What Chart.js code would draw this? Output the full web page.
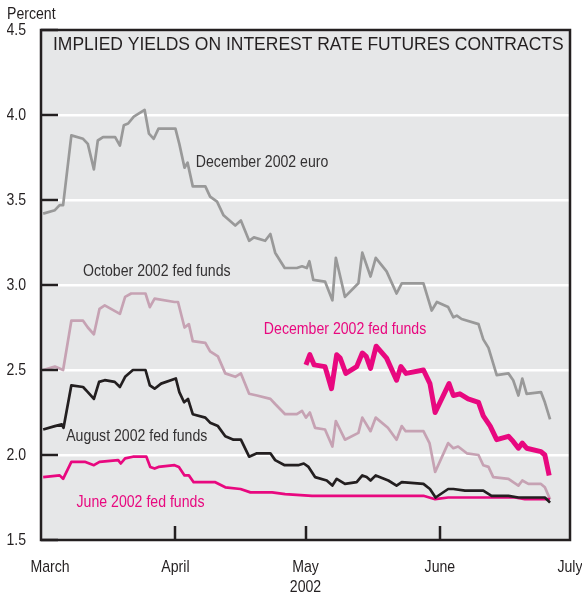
<!DOCTYPE html>
<html><head><meta charset="utf-8">
<script src="https://cdn.jsdelivr.net/npm/chart.js@4/dist/chart.umd.min.js"></script>
<style>html,body{margin:0;padding:0;background:#fff}#wrap{width:582px;height:598px}</style>
</head><body><div id="wrap"><canvas id="c" width="582" height="598"></canvas></div>
<script>
// x values are days since March 1, 2002
const monthLabels = ['March','April','May','June','July'];
const monthDays = [0, 31, 61, 92, 122];
const yTickValues = [1.5, 2.0, 2.5, 3.0, 3.5, 4.0, 4.5];

const euroDays = [0.5,3.2,4.3,5.1,7.0,9.7,10.8,12.2,13.1,14.3,17.1,18.2,19.1,20.1,21.4,23.9,24.9,26.0,27.1,31.0,31.9,33.1,33.8,35.0,37.9,39.0,40.6,42.1,44.8,46.1,48.0,49.1,51.7,52.9,54.0,56.2,59.0,60.2,61.3,61.9,62.8,65.5,67.2,68.0,70.1,73.2,74.1,76.0,77.2,79.7,82.0,83.2,88.2,90.1,91.3,93.9,95.1,95.9,97.0,100.9,102.0,103.2,105.1,107.8,108.9,110.1,111.0,112.0,115.3,116.2,117.4];
const euroVals = [3.42,3.44,3.47,3.47,3.88,3.86,3.83,3.68,3.85,3.87,3.87,3.82,3.94,3.95,3.99,4.03,3.89,3.86,3.92,3.92,3.83,3.69,3.72,3.58,3.58,3.52,3.49,3.41,3.35,3.38,3.26,3.28,3.26,3.30,3.19,3.10,3.10,3.11,3.10,3.14,3.03,3.02,2.91,3.16,2.93,3.01,3.19,3.05,3.16,3.08,2.95,3.01,3.01,2.85,2.90,2.87,2.81,2.82,2.80,2.77,2.68,2.63,2.47,2.48,2.44,2.35,2.45,2.36,2.37,2.31,2.21];

const octDays = [0.5,3.2,5.1,7.0,9.7,10.8,12.2,13.5,14.7,18.2,19.4,20.8,24.1,25.1,26.2,30.8,31.6,33.1,34.1,35.0,37.9,39.0,40.8,42.5,44.8,46.1,48.0,49.8,52.9,54.0,56.3,59.0,60.2,61.1,62.0,63.2,65.5,67.2,68.0,70.1,73.2,74.1,76.0,77.2,80.0,82.0,83.2,84.1,88.2,89.6,90.9,93.9,95.1,96.2,98.2,100.9,102.0,103.2,104.3,107.8,108.9,110.1,111.0,112.4,115.3,116.2,117.4];
const octVals = [2.50,2.52,2.50,2.79,2.79,2.75,2.71,2.86,2.88,2.83,2.93,2.95,2.95,2.87,2.92,2.90,2.90,2.75,2.77,2.67,2.66,2.61,2.58,2.48,2.46,2.48,2.36,2.35,2.33,2.30,2.24,2.24,2.26,2.22,2.25,2.16,2.15,2.05,2.20,2.09,2.13,2.22,2.14,2.22,2.16,2.09,2.17,2.14,2.14,2.07,1.90,2.07,2.04,2.05,2.01,2.00,1.94,1.93,1.87,1.86,1.84,1.82,1.85,1.83,1.83,1.81,1.74];

const augDays = [0.5,3.2,4.8,5.2,7.0,9.7,10.8,12.2,13.4,14.7,17.0,18.2,19.4,21.2,24.1,25.1,26.2,27.7,31.1,31.9,33.0,33.9,35.0,37.9,39.0,40.8,42.5,44.4,46.1,48.0,49.8,52.9,54.0,56.2,59.3,60.6,61.7,63.2,65.9,67.2,68.2,70.1,72.8,74.1,75.1,76.0,77.2,80.1,82.0,83.2,88.2,89.7,91.0,93.9,95.1,97.8,102.0,103.9,107.8,110.1,116.2,117.4];
const augVals = [2.15,2.17,2.18,2.16,2.41,2.40,2.37,2.33,2.43,2.44,2.43,2.40,2.46,2.50,2.50,2.41,2.39,2.42,2.45,2.37,2.31,2.33,2.24,2.22,2.19,2.17,2.11,2.09,2.09,1.99,2.01,2.01,1.97,1.94,1.94,1.95,1.93,1.87,1.85,1.82,1.86,1.83,1.84,1.88,1.87,1.85,1.88,1.85,1.82,1.84,1.83,1.80,1.75,1.80,1.80,1.79,1.79,1.76,1.76,1.75,1.75,1.72];

const junDays = [0.5,4.3,5.1,7.0,10.1,12.2,13.5,17.8,18.4,19.4,21.2,24.3,25.2,26.2,27.1,30.8,31.8,33.1,34.1,35.2,40.2,42.5,46.0,48.3,53.3,56.3,62.5,88.2,90.9,93.9,109.3,111.6,117.4];
const junVals = [1.87,1.88,1.86,1.96,1.96,1.94,1.96,1.97,1.95,1.98,1.99,1.99,1.93,1.92,1.93,1.94,1.93,1.88,1.88,1.84,1.84,1.81,1.80,1.78,1.78,1.77,1.76,1.76,1.74,1.75,1.75,1.74,1.74];

const decDays = [61.1,62.0,63.0,65.5,67.0,68.2,69.0,70.3,72.8,74.1,75.0,76.0,77.3,79.7,82.0,83.0,84.2,88.2,89.7,90.9,94.1,95.1,96.6,98.5,100.9,102.0,103.6,105.1,107.8,108.9,110.1,111.0,112.0,115.3,116.2,117.2];
const decVals = [2.53,2.59,2.53,2.52,2.39,2.59,2.57,2.48,2.52,2.60,2.58,2.51,2.64,2.57,2.44,2.52,2.48,2.50,2.42,2.25,2.42,2.35,2.36,2.33,2.31,2.23,2.17,2.09,2.11,2.08,2.04,2.07,2.04,2.02,2.00,1.88];

const seriesNames = ['December 2002 euro','October 2002 fed funds','December 2002 fed funds','August 2002 fed funds','June 2002 fed funds'];
// label anchors (day, value) for the in-plot series names
const labelDays = [35.7, 9.7, 51.4, 5.8, 8.2];
const labelVals = [3.72, 3.08, 2.74, 2.11, 1.72];

const titleText = 'IMPLIED YIELDS ON INTEREST RATE FUTURES CONTRACTS';

const MAGENTA = '#e8087f';
const FONT = "'Liberation Sans', Arial, sans-serif";
const INK = '#231f20';

// condensed text rendering: horizontally squeeze all canvas text around its anchor
const canvas = document.getElementById('c');
const ctx2d = canvas.getContext('2d');
ctx2d.__sx = 0.83;
const origFillText = ctx2d.fillText.bind(ctx2d);
ctx2d.fillText = function(text, x, y, maxW){
  const sx = this.__sx || 1;
  this.save();
  this.translate(x, y);
  this.scale(sx, 1);
  origFillText(text, 0, 0);
  this.restore();
};

function pts(xs, ys){ return xs.map((x,i)=>({x:x, y:ys[i]})); }

const decorPlugin = {
  id: 'decor',
  beforeDraw(chart){
    const {ctx, chartArea:a} = chart;
    ctx.save();
    ctx.fillStyle = '#e6e7e8';
    ctx.fillRect(a.left, a.top, a.right-a.left, a.bottom-a.top);
    ctx.restore();
  },
  afterDatasetsDraw(chart){
    const {ctx, chartArea:a, scales:{x, y}} = chart;
    ctx.save();
    // series labels
    const colors = ['#333132','#333132',MAGENTA,'#333132',MAGENTA];
    ctx.font = '17px ' + FONT;
    ctx.textBaseline = 'middle';
    ctx.textAlign = 'left';
    seriesNames.forEach((t,i)=>{
      ctx.fillStyle = colors[i];
      ctx.fillText(t, x.getPixelForValue(labelDays[i]), y.getPixelForValue(labelVals[i]));
    });
    // title
    ctx.fillStyle = INK;
    ctx.font = '18.5px ' + FONT;
    ctx.__sx = 0.945;
    ctx.fillText(titleText, a.left + 12, a.top + 15);
    ctx.__sx = 0.83;
    ctx.restore();

    ctx.save();
    ctx.strokeStyle = INK;
    ctx.lineWidth = 2.5;
    // inner y ticks
    yTickValues.forEach(v=>{
      const py = Math.round(y.getPixelForValue(v));
      ctx.beginPath(); ctx.moveTo(a.left, py); ctx.lineTo(a.left + 17, py); ctx.stroke();
    });
    // inner x ticks
    monthDays.slice(1, -1).forEach(d=>{
      const px = Math.round(x.getPixelForValue(d));
      ctx.beginPath(); ctx.moveTo(px, a.bottom); ctx.lineTo(px, a.bottom - 14); ctx.stroke();
    });
    // frame
    ctx.strokeRect(a.left, a.top, a.right-a.left, a.bottom-a.top);
    ctx.restore();
  }
};

const line = (data, color, w, order) => ({
  data, borderColor: color, borderWidth: w, pointRadius: 0, tension: 0,
  borderJoinStyle: 'round', borderCapStyle: 'butt', fill: false, order
});

new Chart(canvas, {
  type: 'line',
  data: {
    datasets: [
      line(pts(decDays, decVals), MAGENTA, 5, 0),
      line(pts(augDays, augVals), INK, 2.7, 1),
      line(pts(junDays, junVals), MAGENTA, 2.7, 2),
      line(pts(octDays, octVals), '#c6a2b3', 2.7, 3),
      line(pts(euroDays, euroVals), '#999999', 2.7, 4)
    ]
  },
  options: {
    responsive: false,
    animation: false,
    devicePixelRatio: 1,
    layout: { padding: { left: 7, right: 12, top: 0, bottom: 0 } },
    plugins: {
      legend: { display: false },
      tooltip: { enabled: false },
      title: {
        display: true, text: 'Percent', align: 'start', color: INK,
        font: { family: FONT, size: 17, weight: 'normal', lineHeight: 1.2 },
        padding: { top: 4, bottom: 5.6 }
      }
    },
    scales: {
      x: {
        type: 'linear', min: monthDays[0], max: monthDays[monthDays.length-1],
        afterBuildTicks: s => { s.ticks = monthDays.map((d,i)=>({ value: i === 0 ? d + 2.1 : d })); },
        afterFit: s => { s.height = 58; s.paddingLeft = 0; s.paddingRight = 0; },
        grid: { display: false, drawTicks: false },
        border: { display: false },
        ticks: {
          autoSkip: false, maxRotation: 0, padding: 17, color: INK,
          font: { family: FONT, size: 17 },
          callback: (v, i) => monthLabels[i]
        },
        title: {
          display: true, text: '2002', color: INK,
          font: { family: FONT, size: 17 },
          padding: { top: 0, bottom: 0 }
        }
      },
      y: {
        min: 1.5, max: 4.5,
        afterBuildTicks: s => { s.ticks = yTickValues.map(v=>({ value: v })); },
        afterFit: s => { s.width = 34; s.paddingTop = 0; s.paddingBottom = 0; },
        grid: { color: '#ffffff', lineWidth: 2.5, drawTicks: false },
        border: { display: false },
        ticks: {
          padding: 15, color: INK,
          font: { family: FONT, size: 17 },
          callback: v => v.toFixed(1)
        }
      }
    }
  },
  plugins: [decorPlugin]
});
</script>
</body></html>
